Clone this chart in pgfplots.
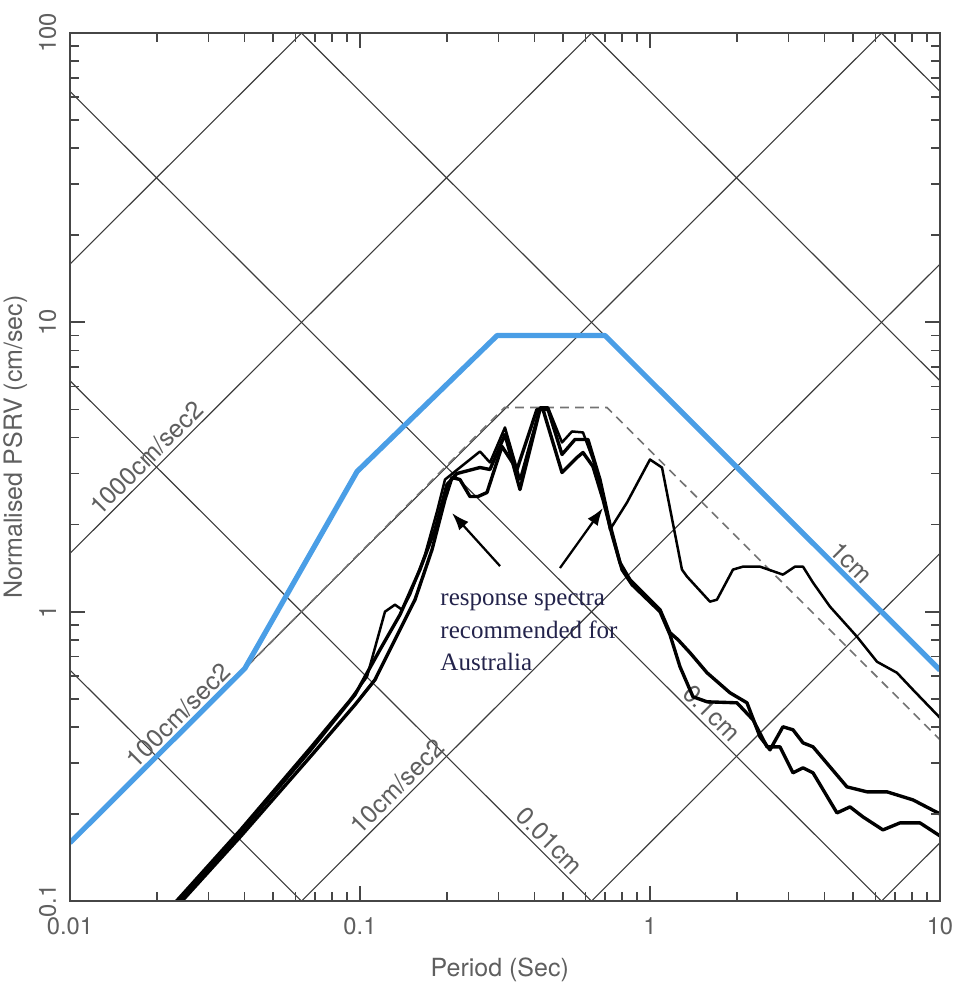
\documentclass[border=0pt]{standalone}
\usepackage{fontspec}
\setmainfont{TeX Gyre Heros}
\newfontfamily\timesfont{Liberation Serif}
\usepackage{pgfplots}
\pgfplotsset{compat=1.18}
\usetikzlibrary{arrows.meta}
\definecolor{bluespec}{RGB}{74,158,230}
\definecolor{annot}{RGB}{35,35,75}
\definecolor{gridc}{RGB}{60,60,60}
\definecolor{labc}{RGB}{95,95,95}
\definecolor{tickc}{RGB}{70,70,70}
\begin{document}
\begin{tikzpicture}
\useasboundingbox (-28pt,-36.4pt) rectangle (353.6pt,360.4pt);
\begin{axis}[
  at={(0,0)}, anchor=south west,
  scale only axis, width=348pt, height=347.2pt,
  xmode=log, ymode=log,
  xmin=0.01, xmax=10, ymin=0.1, ymax=100,
  xtick={0.01,0.1,1,10}, xticklabels={0.01,0.1,1,10},
  ytick={0.1,1,10,100}, yticklabels={0.1,1,10,100},
  minor xtick={0.02,0.03,0.04,0.05,0.06,0.07,0.08,0.09,0.2,0.3,0.4,0.5,0.6,0.7,0.8,0.9,2,3,4,5,6,7,8,9},
  minor ytick={0.2,0.3,0.4,0.5,0.6,0.7,0.8,0.9,2,3,4,5,6,7,8,9,20,30,40,50,60,70,80,90},
  tick align=inside, xtick pos=both, ytick pos=both,
  major tick length=6pt, minor tick length=3.5pt,
  axis line style={draw=tickc, line width=0.7pt},
  every tick/.append style={draw=tickc, line width=0.75pt},
  every minor tick/.append style={draw=tickc, line width=0.65pt},
  ticklabel style={font=\fontsize{9.5}{11}\selectfont, text=labc},
  xticklabel style={yshift=-3pt},
  yticklabel style={xshift=-2pt, rotate=90, anchor=south},
  xlabel={Period (Sec)},
  ylabel={Normalised PSRV (cm/sec)},
  label style={font=\fontsize{10}{12}\selectfont, text=labc},
  xlabel style={at={(axis description cs:0.494,-0.079)}, anchor=center},
  ylabel style={at={(axis description cs:-0.063,0.523)}, anchor=center},
  axis on top,
  clip=true,
]
% tripartite grid: constant acceleration
\addplot[gridc, line width=0.45pt] coordinates {(0.01,0.000159) (10,0.159)};
\addplot[gridc, line width=0.45pt] coordinates {(0.01,0.00159) (10,1.59)};
\addplot[gridc, line width=0.45pt] coordinates {(0.01,0.0159) (10,15.9)};
\addplot[gridc, line width=0.45pt] coordinates {(0.01,0.159) (10,159)};
\addplot[gridc, line width=0.45pt] coordinates {(0.01,1.59) (10,1590)};
\addplot[gridc, line width=0.45pt] coordinates {(0.01,15.9) (10,15900)};
% constant displacement
\addplot[gridc, line width=0.45pt] coordinates {(0.01,0.6283) (10,0.000628)};
\addplot[gridc, line width=0.45pt] coordinates {(0.01,6.283) (10,0.006283)};
\addplot[gridc, line width=0.45pt] coordinates {(0.01,62.83) (10,0.06283)};
\addplot[gridc, line width=0.45pt] coordinates {(0.01,628.3) (10,0.6283)};
\addplot[gridc, line width=0.45pt] coordinates {(0.01,6283) (10,6.283)};
\addplot[gridc, line width=0.45pt] coordinates {(0.01,62830) (10,62.83)};
% labels on grid lines
\begin{scope}[every node/.style={font=\fontsize{10}{12}\selectfont, text=labc, inner sep=1.5pt}]
\node[rotate=45, anchor=south] at (axis cs:0.0198,3.15) {1000cm/sec2};
\node[rotate=45, anchor=south] at (axis cs:0.0255,0.406) {100cm/sec2};
\node[rotate=45, anchor=south] at (axis cs:0.145,0.231) {10cm/sec2};
\node[rotate=-45, anchor=south] at (axis cs:4.59,1.37) {1cm};
\node[rotate=-45, anchor=south] at (axis cs:1.517,0.414) {0.1cm};
\node[rotate=-45, anchor=south] at (axis cs:0.419,0.15) {0.01cm};
\end{scope}
% dashed spectrum
\addplot[black!55, line width=0.65pt, dash pattern=on 3.5pt off 2.5pt] coordinates {
(0.041,0.65) (0.315,5.08) (0.71,5.08) (10,0.361)};
% response spectra
\addplot[black, line width=1.0pt, line join=round] coordinates {
(0.02320,0.1) (0.03857,0.1761) (0.06724,0.3384) (0.09238,0.4961) (0.1057,0.5958)
(0.12195,1.0) (0.1320,1.057) (0.1396,1.016) (0.1488,1.145) (0.1676,1.575)
(0.1843,2.218) (0.1964,2.862) (0.2126,3.051) (0.2593,3.578) (0.2807,3.278)
(0.3162,4.332) (0.3562,2.862) (0.4175,5.080) (0.4450,5.080) (0.4973,3.845)
(0.5383,4.196) (0.5875,4.164) (0.6359,3.357) (0.6886,2.540) (0.7280,1.922)
(0.8332,2.384) (1.0,3.357) (1.100,3.150) (1.289,1.398) (1.342,1.322)
(1.610,1.083) (1.702,1.100) (1.933,1.398) (2.093,1.431) (2.395,1.431)
(2.874,1.343) (3.162,1.431) (3.370,1.431) (3.649,1.260) (4.175,1.041)
(5.174,0.8195) (6.064,0.6714) (7.107,0.6150) (8.070,0.5372) (10.0,0.4298)};
\addplot[black, line width=1.35pt, line join=round] coordinates {
(0.02376,0.1) (0.03857,0.1720) (0.06724,0.3304) (0.09612,0.5163) (0.1172,0.7388)
(0.1374,0.9763) (0.1610,1.398) (0.1814,1.922) (0.1995,2.751) (0.2160,3.003)
(0.2593,3.150) (0.2807,3.100) (0.3162,4.098) (0.3562,2.643) (0.4175,5.000)
(0.4450,5.000) (0.4973,3.494) (0.5513,3.938) (0.6112,3.938) (0.6724,2.862)
(0.7280,2.0) (0.7880,1.477) (0.8532,1.290) (1.083,1.016) (1.172,0.846)
(1.249,0.8001) (1.374,0.7213) (1.573,0.6150) (1.887,0.5245) (2.160,0.4842)
(2.395,0.3694) (2.593,0.3330) (2.874,0.4001) (3.113,0.3907) (3.370,0.3521)
(3.649,0.3411) (4.175,0.2909) (4.778,0.2480) (5.602,0.2384) (6.565,0.2384)
(8.070,0.2236) (10.0,0.2000)};
\addplot[black, line width=1.35pt, line join=round] coordinates {
(0.02434,0.1) (0.03919,0.1692) (0.06831,0.3201) (0.09612,0.4767) (0.11265,0.5817)
(0.1320,0.8001) (0.1548,1.100) (0.1772,1.639) (0.1964,2.441) (0.2076,2.909)
(0.2212,2.862) (0.2395,2.500) (0.2552,2.500) (0.2741,2.581) (0.3088,3.724)
(0.3478,3.100) (0.4076,5.000) (0.4276,5.000) (0.4973,3.027) (0.5602,3.411)
(0.5875,3.550) (0.6359,3.175) (0.6886,2.441) (0.7396,1.847) (0.8007,1.398)
(0.8668,1.240) (1.083,1.0) (1.172,0.8326) (1.269,0.6452) (1.407,0.5080)
(1.573,0.4881) (1.995,0.4842) (2.266,0.4230) (2.532,0.3411) (2.807,0.3411)
(3.113,0.2773) (3.370,0.2886) (3.649,0.2773) (4.414,0.2016) (4.894,0.2115)
(5.426,0.1953) (6.359,0.1761) (7.280,0.1862) (8.532,0.1862) (10.0,0.1679)};
% thin black line beneath the blue plateau
\addplot[black, line width=0.5pt] coordinates {(0.297,9.14) (0.70,9.14)};
% recommended spectrum (blue)
\addplot[bluespec, line width=2.1pt, line join=round] coordinates {
(0.01,0.159) (0.0401,0.637) (0.0977,3.05) (0.297,9.0) (0.70,9.0) (10,0.628)};
% annotation
\node[anchor=north west, align=left, inner sep=0pt, text=annot,
      font=\timesfont\fontsize{10}{13}\selectfont]
  at (axis description cs:0.4253,0.357) {response spectra\\recommended for\\Australia};
\draw[black, line width=0.9pt, -{Latex[length=7pt,width=5pt]}]
  (axis description cs:0.4943,0.3859) -- (axis description cs:0.4391,0.447);
\draw[black, line width=0.9pt, -{Latex[length=7pt,width=5pt]}]
  (axis description cs:0.5632,0.3836) -- (axis description cs:0.6126,0.4528);
\end{axis}
\end{tikzpicture}
\end{document}
